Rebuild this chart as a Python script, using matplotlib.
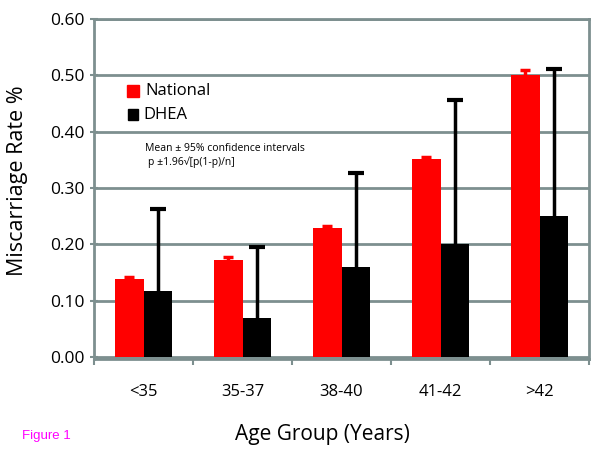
import matplotlib
matplotlib.use("Agg")
import matplotlib.pyplot as plt
import numpy as np

# Datos
groups = ["<35", "35-37", "38-40", "41-42", ">42"]
national = [0.138, 0.172, 0.229, 0.352, 0.501]
national_err = [0.004, 0.006, 0.004, 0.004, 0.008]
dhea = [0.118, 0.069, 0.160, 0.200, 0.250]
dhea_upper = [0.263, 0.195, 0.327, 0.456, 0.511]

GRID = "#7d8f8f"
plt.rcParams["font.family"] = ["Open Sans", "DejaVu Sans"]

fig = plt.figure(figsize=(6.0, 4.49), dpi=100)
ax = fig.add_axes([0.1567, 0.2004, 0.825, 0.757])

x = np.arange(len(groups))
w = 0.29
dhea_err = [u - v for u, v in zip(dhea_upper, dhea)]

ax.bar(x - w / 2, national, w, color="#ff0000", zorder=3)
ax.bar(x + w / 2, dhea, w, color="black", zorder=3)
# Solo la parte superior del intervalo, como en Excel
eb_n = ax.errorbar(x - w / 2, national, yerr=[np.zeros(len(x)), national_err],
                   fmt="none", ecolor="#ff0000", elinewidth=2.5, capsize=3.5,
                   capthick=2.5, zorder=4)
eb_d = ax.errorbar(x + w / 2, dhea, yerr=[np.zeros(len(x)), dhea_err],
                   fmt="none", ecolor="black", elinewidth=2.5, capsize=5.5,
                   capthick=3, zorder=4)
# Oculta la tapa inferior
for eb in (eb_n, eb_d):
    eb[1][0].set_visible(False)

ax.set_xlim(-0.5, len(groups) - 0.5)
ax.set_ylim(-0.0036, 0.60)
ax.set_yticks(np.arange(0, 0.61, 0.1))
ax.set_yticklabels([f"{v:.2f}" for v in np.arange(0, 0.61, 0.1)])
ax.yaxis.grid(True, color=GRID, linewidth=2, zorder=0)
ax.set_axisbelow(True)

ax.set_xticks(x)
ax.set_xticklabels(groups)
ax.set_xticks(np.arange(-0.5, len(groups)), minor=True)
ax.tick_params(axis="x", which="major", length=0, pad=18, labelsize=12)
ax.tick_params(axis="x", which="minor", length=4, width=1.5, color=GRID,
               direction="out")
ax.tick_params(axis="y", length=6, width=1.5, color=GRID, direction="inout",
               labelsize=12.5, pad=4)

for s in ax.spines.values():
    s.set_color(GRID)
    s.set_linewidth(2)

# Títulos de ejes como texto de figura
fig.text(0.029, 0.597, "Miscarriage Rate %", fontsize=15.5, rotation=90,
         ha="center", va="center")
fig.text(0.538, 0.033, "Age Group (Years)", fontsize=15,
         ha="center", va="center")

# Leyenda manual
ax.add_patch(plt.Rectangle((0.067, 0.771), 0.024, 0.035,
                           transform=ax.transAxes, color="#ff0000",
                           clip_on=False))
ax.add_patch(plt.Rectangle((0.069, 0.703), 0.019, 0.034,
                           transform=ax.transAxes, color="black",
                           clip_on=False))
ax.text(0.103, 0.788, "National", transform=ax.transAxes, fontsize=12,
        va="center", ha="left")
ax.text(0.099, 0.718, "DHEA", transform=ax.transAxes, fontsize=12,
        va="center", ha="left")

ax.text(0.103, 0.618, "Mean \u00b1 95% confidence intervals",
        transform=ax.transAxes, fontsize=7.5, va="center", ha="left")
ax.text(0.109, 0.579, "p \u00b11.96\u221a[p(1-p)/n]",
        transform=ax.transAxes, fontsize=7.5, va="center", ha="left")

fig.text(0.037, 0.029, "Figure 1", color="#ff00ff", fontsize=9.5,
         family="Liberation Sans", va="center", ha="left")

fig.savefig("out.png", dpi=100)
